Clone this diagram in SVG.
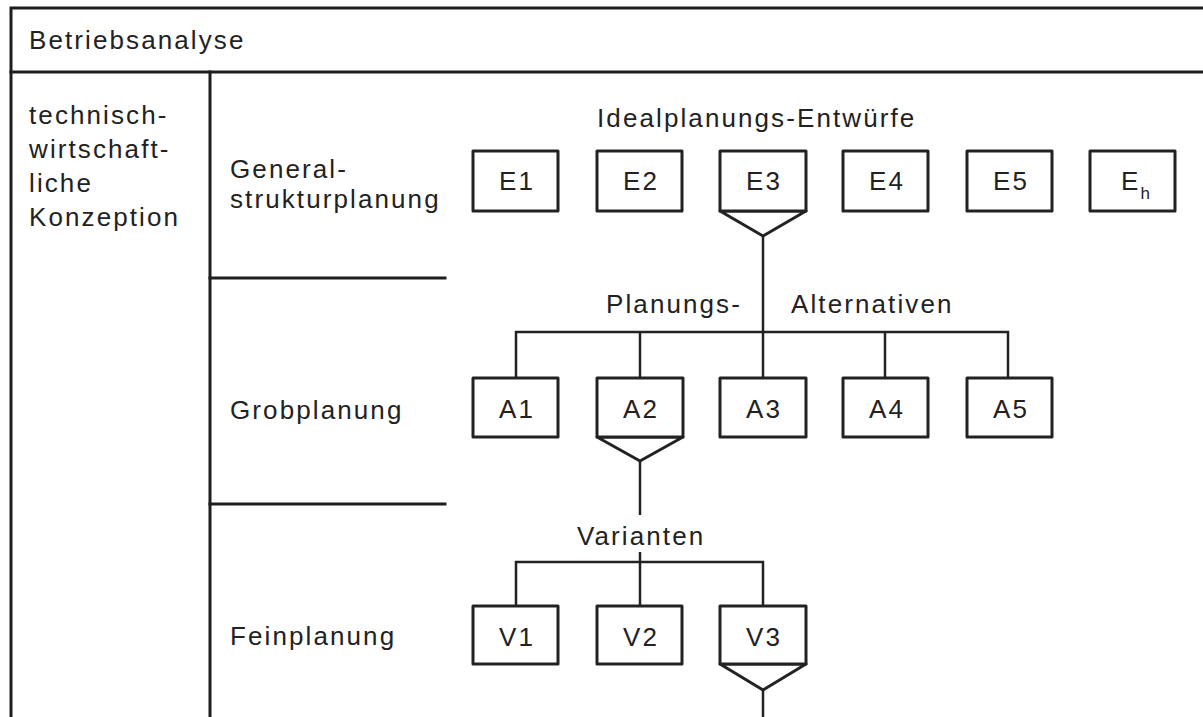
<svg xmlns="http://www.w3.org/2000/svg" width="1203" height="717" viewBox="0 0 1203 717">
  <style>
    .frame { stroke: #1e1e1e; stroke-width: 3; fill: none; stroke-linecap: square; }
    .box { stroke: #222; stroke-width: 3; fill: #fff; stroke-linejoin: round; }
    .funnel { stroke: #222; stroke-width: 3; fill: #fff; stroke-linejoin: round; }
    .wire { stroke: #222; stroke-width: 2.5; fill: none; }
    text { font-family: "Liberation Sans", Arial, sans-serif; font-size: 26px; fill: #222; letter-spacing: 2.1px; }
    .lbl { text-anchor: middle; }
  </style>
  <rect width="1203" height="717" fill="#fff"/>

  <!-- table frame -->
  <g id="frame">
    <path class="frame" d="M11 717 V8 H1203"/>
    <path class="frame" d="M11 72 H1203"/>
    <path class="frame" d="M210 72 V717"/>
    <path class="frame" d="M210 278 H445"/>
    <path class="frame" d="M210 504 H445"/>
  </g>

  <!-- row and column headings -->
  <g id="headings">
    <text x="29" y="49">Betriebsanalyse</text>
    <text x="29" y="124">technisch-</text>
    <text x="29" y="158">wirtschaft-</text>
    <text x="29" y="192">liche</text>
    <text x="29" y="226">Konzeption</text>
    <text x="230" y="178">General-</text>
    <text x="230" y="208">strukturplanung</text>
    <text x="230" y="419">Grobplanung</text>
    <text x="230" y="645">Feinplanung</text>
  </g>

  <!-- connectors -->
  <g id="connectors">
    <path class="wire" d="M763 235 V378"/>
    <path class="wire" d="M516 378 V332 H1008 V378"/>
    <path class="wire" d="M640 332 V378"/>
    <path class="wire" d="M885 332 V378"/>
    <path class="wire" d="M640 460 V515"/>
    <path class="wire" d="M640 552 V606"/>
    <path class="wire" d="M516 606 V562 H763 V606"/>
    <path class="wire" d="M763 690 V717"/>
  </g>

  <!-- group captions -->
  <g id="captions">
    <text x="597" y="127">Idealplanungs-Entwürfe</text>
    <text x="606" y="313">Planungs-</text>
    <text x="791" y="313">Alternativen</text>
    <text x="577" y="545">Varianten</text>
  </g>

  <!-- general structure drafts -->
  <g id="E1"><rect class="box" x="473" y="151" width="85" height="60"/><text class="lbl" x="517" y="190">E1</text></g>
  <g id="E2"><rect class="box" x="597" y="151" width="85" height="60"/><text class="lbl" x="641" y="190">E2</text></g>
  <g id="E3"><path class="funnel" d="M720 211 L763 236 L806 211 Z"/><rect class="box" x="720" y="151" width="86" height="60"/><text class="lbl" x="764" y="190">E3</text></g>
  <g id="E4"><rect class="box" x="843" y="151" width="85" height="60"/><text class="lbl" x="887" y="190">E4</text></g>
  <g id="E5"><rect class="box" x="967" y="151" width="85" height="60"/><text class="lbl" x="1011" y="190">E5</text></g>
  <g id="Eh"><rect class="box" x="1090" y="151" width="85" height="60"/><text x="1121" y="190">E<tspan font-size="17" dy="9" letter-spacing="0">h</tspan></text></g>

  <!-- rough planning alternatives -->
  <g id="A1"><rect class="box" x="473" y="378" width="85" height="59"/><text class="lbl" x="517" y="418">A1</text></g>
  <g id="A2"><path class="funnel" d="M597 437 L640 461 L683 437 Z"/><rect class="box" x="597" y="378" width="86" height="59"/><text class="lbl" x="641" y="418">A2</text></g>
  <g id="A3"><rect class="box" x="720" y="378" width="86" height="59"/><text class="lbl" x="764" y="418">A3</text></g>
  <g id="A4"><rect class="box" x="843" y="378" width="85" height="59"/><text class="lbl" x="887" y="418">A4</text></g>
  <g id="A5"><rect class="box" x="967" y="378" width="85" height="59"/><text class="lbl" x="1011" y="418">A5</text></g>

  <!-- detailed planning variants -->
  <g id="V1"><rect class="box" x="473" y="606" width="85" height="58"/><text class="lbl" x="517" y="646">V1</text></g>
  <g id="V2"><rect class="box" x="597" y="606" width="85" height="58"/><text class="lbl" x="641" y="646">V2</text></g>
  <g id="V3"><path class="funnel" d="M720 664 L763 690 L806 664 Z"/><rect class="box" x="720" y="606" width="86" height="58"/><text class="lbl" x="764" y="646">V3</text></g>
</svg>
